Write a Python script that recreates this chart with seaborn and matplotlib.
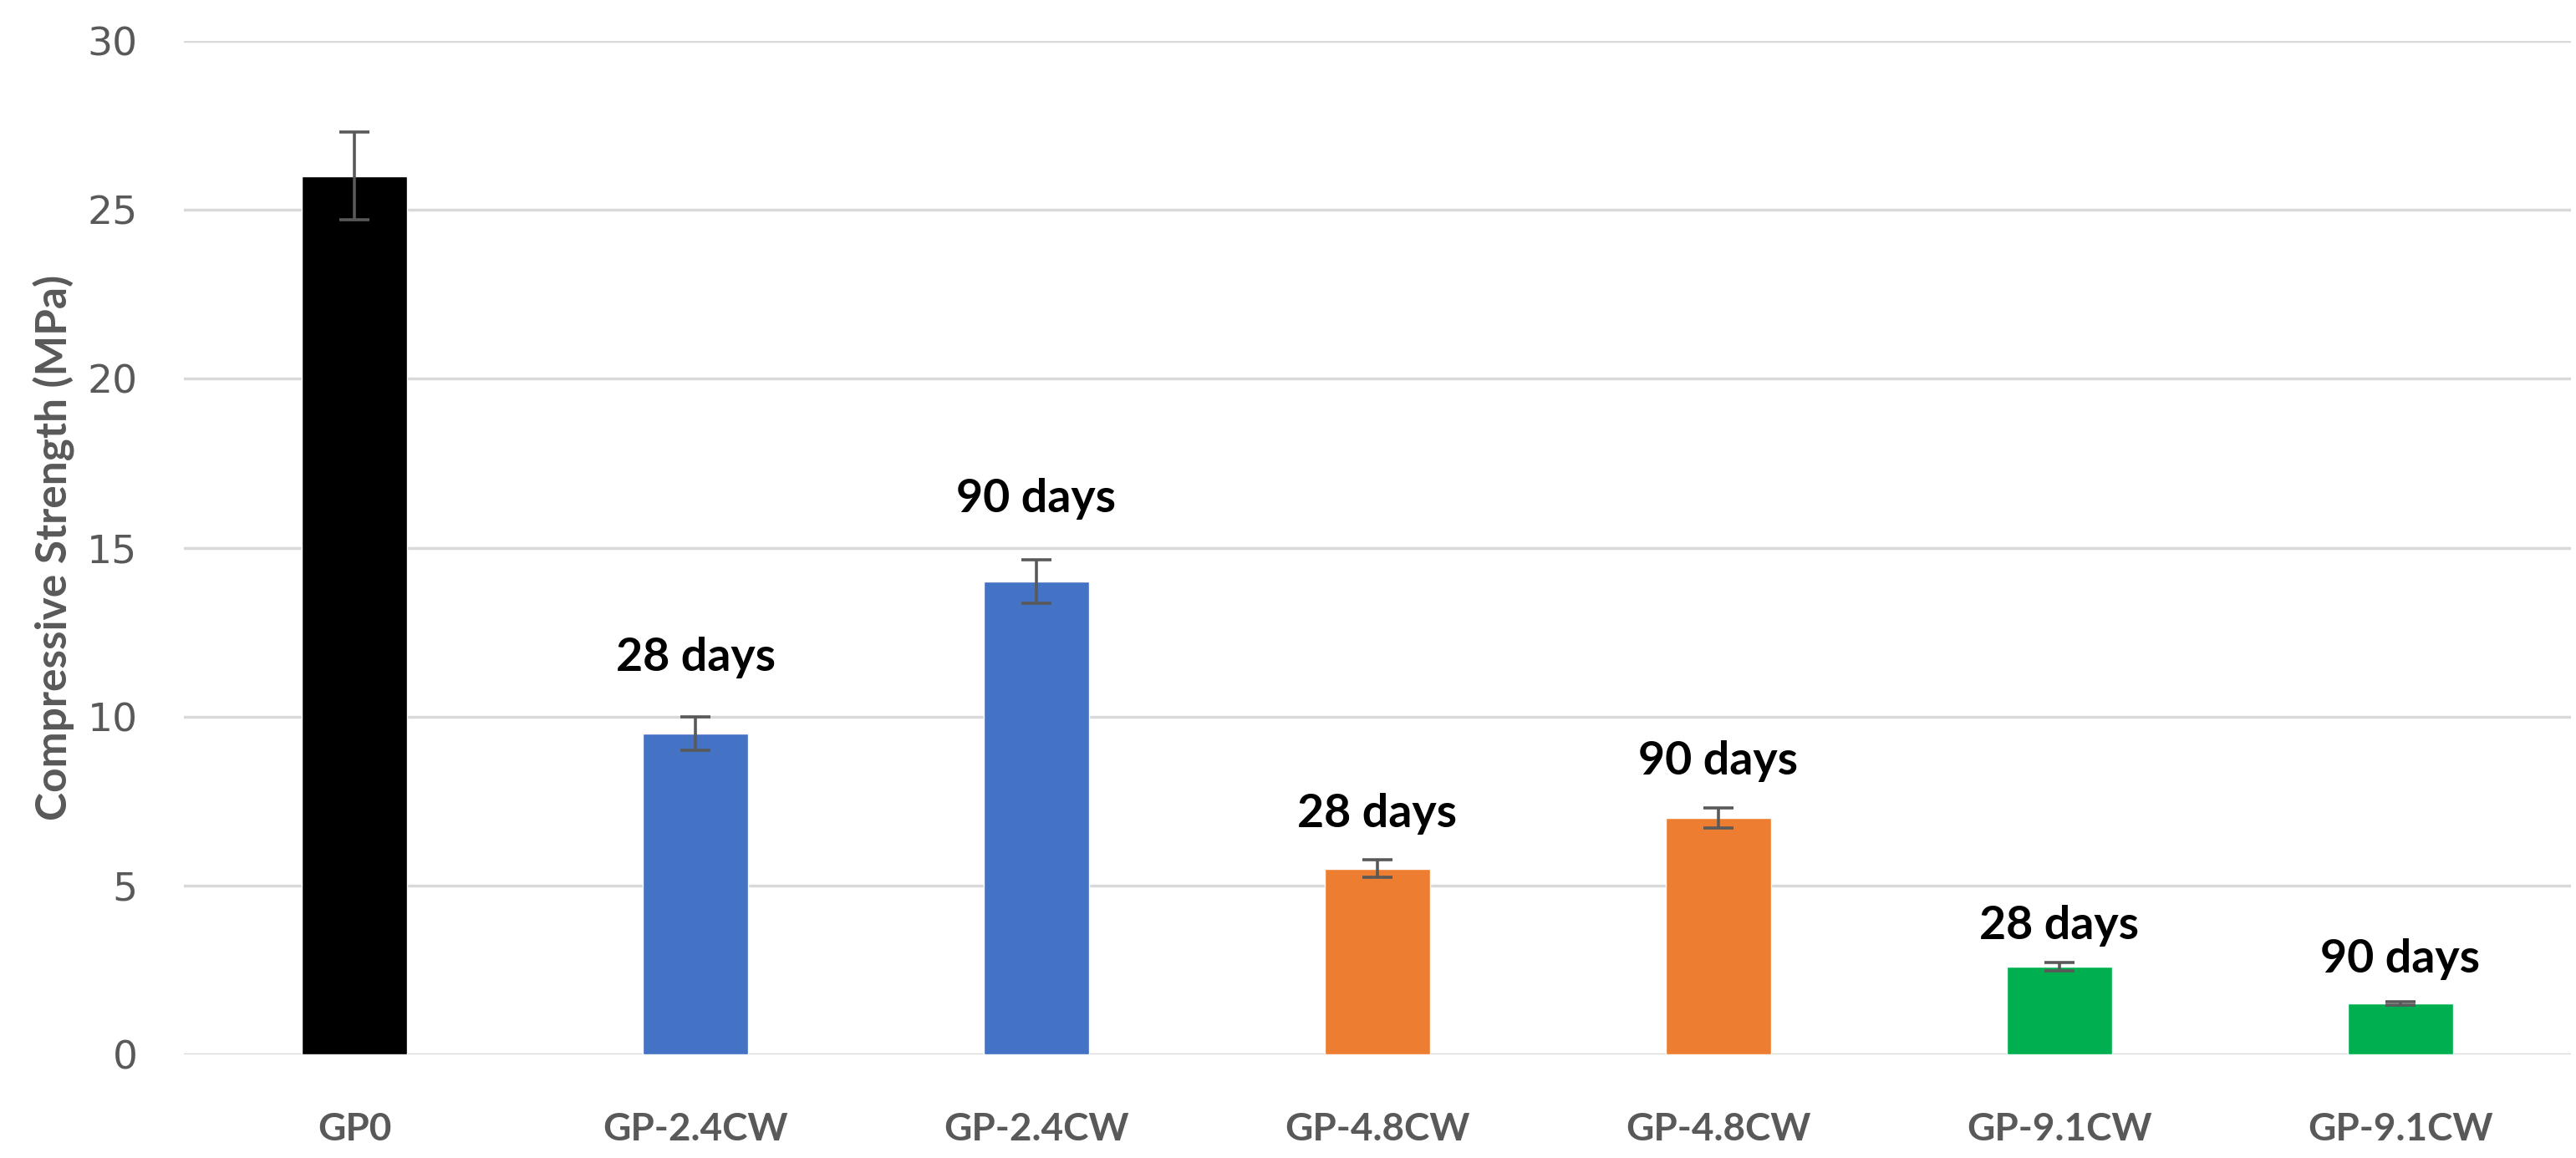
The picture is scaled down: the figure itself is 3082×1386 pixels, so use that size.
import matplotlib
matplotlib.use("Agg")
import matplotlib.pyplot as plt
import seaborn as sns
import pandas as pd
import numpy as np

# ---- data ----
bar_ids = ["GP0", "GP-2.4CW 28d", "GP-2.4CW 90d", "GP-4.8CW 28d", "GP-4.8CW 90d", "GP-9.1CW 28d", "GP-9.1CW 90d"]
tick_labels = ["GP0", "GP-2.4CW", "GP-2.4CW", "GP-4.8CW", "GP-4.8CW", "GP-9.1CW", "GP-9.1CW"]
strength = [26.0, 9.5, 14.0, 5.5, 7.0, 2.6, 1.5]
strength_err = [1.3, 0.5, 0.65, 0.25, 0.3, 0.12, 0.05]
age_labels = ["", "28 days", "90 days", "28 days", "90 days", "28 days", "90 days"]
bar_colors = ["#000000", "#4472C4", "#4472C4", "#ED7D31", "#ED7D31", "#00B050", "#00B050"]
label_offsets_pt = [0, 33, 34, 22, 22, 14, 19]

df = pd.DataFrame({"bar": bar_ids, "strength": strength})

sns.set_theme(style="white")
plt.rcParams["font.family"] = ["Lato", "DejaVu Sans"]

fig = plt.figure(figsize=(30.82, 13.86), dpi=100)
ax = fig.add_axes([0.0714, 0.0895, 0.9266, 0.8751])

sns.barplot(data=df, x="bar", y="strength", hue="bar", palette=bar_colors,
            width=0.31, dodge=False, legend=False, errorbar=None, ax=ax,
            saturation=1.0)

xs = np.arange(len(bar_ids))
ax.errorbar(xs, strength, yerr=strength_err, fmt="none", ecolor="#595959",
            elinewidth=2.6, capsize=13, capthick=2.6, zorder=5)

for x, v, e, lab, off in zip(xs, strength, strength_err, age_labels, label_offsets_pt):
    if lab:
        ax.annotate(lab, xy=(x, v + e), xytext=(0, off), textcoords="offset points",
                    ha="center", va="bottom", fontsize=40, fontweight="bold",
                    color="black", family=["Lato", "DejaVu Sans"])

ax.set_ylim(0, 30)
ax.set_xlim(-0.5, len(bar_ids) - 0.5)
ax.set_yticks([0, 5, 10, 15, 20, 25, 30])
ax.yaxis.grid(True, color="#D9D9D9", linewidth=2.5)
ax.set_axisbelow(True)
for s in ax.spines.values():
    s.set_visible(False)

ax.set_xticks(xs)
ax.set_xticklabels(tick_labels, fontsize=33, fontweight="bold", color="#595959")
ax.tick_params(axis="x", length=0, pad=50)
ax.tick_params(axis="y", length=0, pad=40, labelsize=34, labelcolor="#595959")
for t in ax.get_yticklabels():
    t.set_family(["DejaVu Sans"])

ax.set_xlabel("")
ax.set_ylabel("Compressive Strength (MPa)", fontsize=37, fontweight="bold",
              color="#595959", labelpad=10)

fig.savefig("out.png", dpi=100)
